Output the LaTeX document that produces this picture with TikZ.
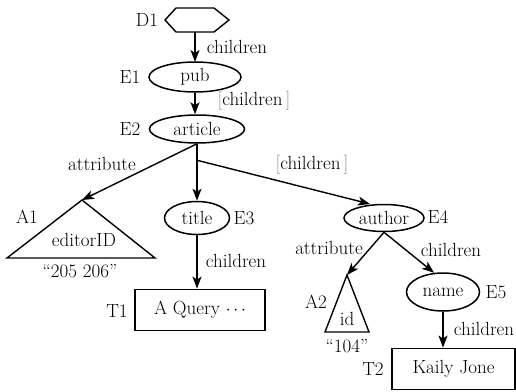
\documentclass[tikz,border=0pt]{standalone}
\usetikzlibrary{shapes.geometric,arrows.meta}
\begin{document}
\begin{tikzpicture}[x=1pt,y=-1pt,
  every node/.style={font=\fontsize{19}{21}\selectfont, inner sep=0pt, text=black},
  ell/.style={draw, ellipse, line width=1.5pt},
  tbox/.style={draw, rectangle, line width=1.8pt},
  arr/.style={line width=1.4pt, -{Stealth[length=12pt,width=9pt,inset=3pt]}},
  shp/.style={line width=1.4pt, line join=miter}
]
\useasboundingbox (0,0) rectangle (516,391);
% hexagon D1
\draw[shp] (165,20) -- (176,8) -- (214,8) -- (229,20) -- (214,32) -- (176,32) -- cycle;
\coordinate (d1b) at (195,32);
\node (D1) at (147,20) {D1};
% ellipses
\node[ell, minimum width=92pt, minimum height=30pt] (pub) at (195,77) {pub};
\node (E1) at (130,77) {E1};
\node[ell, minimum width=95pt, minimum height=28pt] (article) at (197,129) {article};
\node (E2) at (130,129) {E2};
\node[ell, minimum width=65pt, minimum height=33pt] (title) at (197,218) {title};
\node (E3) at (244,218) {E3};
\node[ell, minimum width=80pt, minimum height=27pt] (author) at (384,218) {author};
\node (E4) at (438,217) {E4};
\node[ell, minimum width=73pt, minimum height=38pt] (name) at (443,292) {name};
\node (E5) at (496,292) {E5};
% text boxes
\node[tbox, minimum width=130pt, minimum height=41pt] (T1box) at (200,310) {A Query $\cdots$};
\node (T1) at (117,311) {T1};
\node[tbox, minimum width=123pt, minimum height=41pt] (T2box) at (453.5,369) {Kaily Jone};
\node (T2) at (373,369) {T2};
% triangles
\coordinate (A1apex) at (82,200);
\draw[shp] (A1apex) -- (155,258) -- (7,258) -- cycle;
\node (A1) at (27,217) {A1};
\node (editorID) at (84,240) {editorID};
\node (v1) at (80,271) {``205 206''};
\coordinate (A2apex) at (347,275);
\draw[shp] (A2apex) -- (369,332) -- (325,332) -- cycle;
\node (A2) at (316,302) {A2};
\node (id) at (347,319) {id};
\node (v2) at (347,346) {``104''};
% connectors
\coordinate (split) at (196,160);
\draw[arr] (d1b) -- (195,62);
\draw[arr] (pub.south) -- (article.north -| pub.south);
\draw[arr] (article.south) -- (A1apex);
\draw[arr] (article.south) -- (title.north);
\draw[arr] (split) -- (370,204);
\draw[arr] (title.south) -- (title.south |- T1box.north);
\draw[arr] (author.south) -- (A2apex);
\draw[arr] (author.south) -- (name.115);
\draw[arr] (name.south) -- (name.south |- T2box.north);
% edge labels
\node (l1) at (237,47) {children};
\node (l2) at (254,101) {{\color{black!45}[}children\,{\color{black!45}]}};
\node (l3) at (102,164) {attribute};
\node (l4) at (312,165) {{\color{black!45}[}children\,{\color{black!45}]}};
\node (l5) at (236,261) {children};
\node (l6) at (329,248) {attribute};
\node (l7) at (451,250) {children};
\node (l8) at (484,329) {children};
\end{tikzpicture}
\end{document}
